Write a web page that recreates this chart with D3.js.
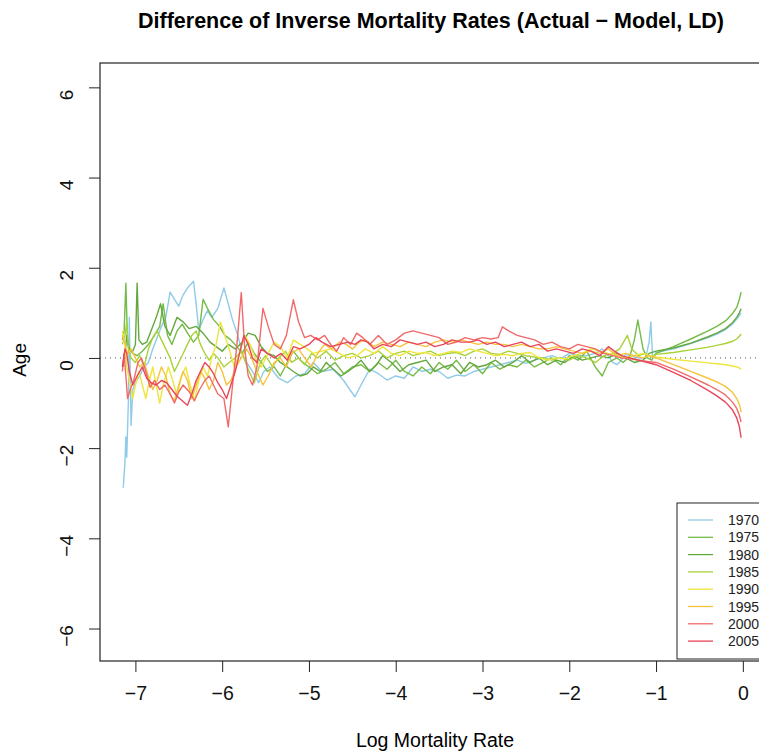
<!DOCTYPE html>
<html>
<head>
<meta charset="utf-8">
<script src="https://cdn.jsdelivr.net/npm/d3@7"></script>
<style>
  body { margin: 0; background: #fff; }
  text { font-family: "Liberation Sans", Arial, sans-serif; }
</style>
</head>
<body>
<div id="chart"></div>
<script>
// each series: [log mortality rate, age difference]
const s1970 = [[-7.14,-2.88],[-7.12,-2.3],[-7.11,-1.75],[-7.10,-2.2],[-7.08,-0.9],[-7.07,0.9],[-7.06,-0.3],[-7.05,-1.5],[-7.03,-0.7],[-7.0,-0.55],[-6.95,-0.4],[-6.9,-0.2],[-6.85,-0.1],[-6.8,0.2],[-6.75,0.45],[-6.7,0.7],[-6.65,0.9],[-6.6,1.46],[-6.55,1.3],[-6.5,1.15],[-6.45,1.4],[-6.4,1.55],[-6.33,1.7],[-6.3,1.2],[-6.27,0.62],[-6.22,0.85],[-6.17,1.05],[-6.12,0.9],[-6.05,1.1],[-5.98,1.55],[-5.93,1.2],[-5.88,0.84],[-5.82,0.5],[-5.77,0.1],[-5.72,-0.1],[-5.65,-0.3],[-5.58,-0.55],[-5.52,-0.3],[-5.45,-0.2],[-5.35,-0.45],[-5.25,-0.55],[-5.15,-0.4],[-5.05,-0.35],[-4.95,-0.1],[-4.85,-0.3],[-4.72,-0.25],[-4.6,-0.5],[-4.53,-0.7],[-4.47,-0.86],[-4.4,-0.6],[-4.3,-0.25],[-4.2,-0.35],[-4.1,-0.49],[-4.0,-0.4],[-3.9,-0.45],[-3.8,-0.2],[-3.7,-0.3],[-3.6,-0.25],[-3.5,-0.3],[-3.4,-0.45],[-3.3,-0.38],[-3.2,-0.4],[-3.1,-0.3],[-3.0,-0.25],[-2.9,-0.2],[-2.8,-0.15],[-2.7,-0.1],[-2.6,-0.05],[-2.5,-0.12],[-2.4,-0.05],[-2.3,0],[-2.2,0.05],[-2.1,-0.02],[-2.0,0.1],[-1.9,0.05],[-1.8,0.05],[-1.7,0.1],[-1.62,0.2],[-1.55,0.05],[-1.5,-0.1],[-1.45,-0.15],[-1.4,-0.05],[-1.35,0.08],[-1.3,0.05],[-1.25,0.02],[-1.2,0.0],[-1.12,0.0],[-1.08,0.35],[-1.06,0.8],[-1.04,0.0],[-1.0,0.12],[-0.8,0.2],[-0.6,0.32],[-0.4,0.45],[-0.3,0.53],[-0.2,0.63],[-0.12,0.75],[-0.07,0.86],[-0.04,0.94],[-0.02,1.0]];
const s1975 = [[-7.15,0.4],[-7.13,0.6],[-7.11,1.66],[-7.09,0.3],[-7.07,0.2],[-7.03,0.1],[-6.98,0.05],[-6.92,0.15],[-6.85,0.3],[-6.78,0.5],[-6.72,0.7],[-6.68,1.2],[-6.63,0.5],[-6.58,0.3],[-6.52,0.6],[-6.46,0.75],[-6.4,0.55],[-6.33,0.35],[-6.27,0.5],[-6.22,1.3],[-6.17,1.1],[-6.1,0.85],[-6.03,0.7],[-5.97,0.5],[-5.9,0.4],[-5.83,0.25],[-5.77,0.1],[-5.7,0.35],[-5.63,0.1],[-5.55,-0.1],[-5.48,-0.3],[-5.4,-0.2],[-5.33,-0.4],[-5.25,-0.1],[-5.18,0.15],[-5.1,-0.05],[-5.0,-0.2],[-4.9,-0.35],[-4.8,-0.25],[-4.7,-0.1],[-4.6,-0.35],[-4.5,-0.2],[-4.4,-0.15],[-4.3,-0.3],[-4.2,-0.1],[-4.1,-0.25],[-4.0,-0.05],[-3.9,-0.3],[-3.8,-0.4],[-3.7,-0.2],[-3.6,-0.35],[-3.5,-0.1],[-3.4,-0.25],[-3.3,-0.05],[-3.2,-0.3],[-3.1,-0.15],[-3.0,-0.35],[-2.9,-0.1],[-2.8,-0.25],[-2.7,-0.15],[-2.6,-0.2],[-2.5,-0.05],[-2.4,-0.2],[-2.3,-0.1],[-2.2,0.0],[-2.1,-0.15],[-2.0,0.05],[-1.9,-0.05],[-1.8,0.15],[-1.7,-0.2],[-1.62,-0.4],[-1.55,-0.1],[-1.45,0.0],[-1.38,-0.1],[-1.3,0.05],[-1.25,0.4],[-1.21,0.84],[-1.15,0.2],[-1.1,0.0],[-1.05,-0.05],[-1.0,0.1],[-0.8,0.25],[-0.6,0.42],[-0.4,0.6],[-0.3,0.7],[-0.2,0.82],[-0.12,0.98],[-0.07,1.12],[-0.04,1.3],[-0.02,1.46]];
const s1980 = [[-7.14,-0.2],[-7.12,0.1],[-7.1,0.5],[-7.07,0.2],[-7.03,0.15],[-7.0,0.3],[-6.98,1.66],[-6.96,0.4],[-6.92,0.3],[-6.87,0.35],[-6.82,0.6],[-6.76,0.9],[-6.71,1.2],[-6.66,0.7],[-6.6,0.5],[-6.52,0.9],[-6.45,0.8],[-6.38,0.65],[-6.3,0.7],[-6.22,0.55],[-6.14,0.35],[-6.07,0.25],[-6.0,0.15],[-5.93,0.3],[-5.85,0.2],[-5.77,0.35],[-5.7,0.55],[-5.62,0.5],[-5.55,0.25],[-5.48,0.1],[-5.4,0.05],[-5.33,-0.1],[-5.25,-0.2],[-5.18,-0.3],[-5.1,-0.4],[-5.02,-0.35],[-4.95,-0.2],[-4.87,-0.3],[-4.8,-0.1],[-4.72,-0.25],[-4.63,-0.4],[-4.55,-0.3],[-4.48,-0.2],[-4.4,-0.05],[-4.3,-0.3],[-4.22,-0.15],[-4.15,0.05],[-4.05,-0.1],[-3.95,-0.3],[-3.85,-0.15],[-3.75,-0.1],[-3.65,-0.05],[-3.55,-0.3],[-3.45,-0.2],[-3.35,-0.15],[-3.25,-0.35],[-3.15,-0.1],[-3.05,-0.2],[-2.95,-0.15],[-2.85,-0.05],[-2.75,-0.2],[-2.65,-0.1],[-2.55,0.05],[-2.45,-0.1],[-2.35,0.0],[-2.25,-0.15],[-2.15,-0.05],[-2.05,-0.1],[-1.95,0.05],[-1.85,-0.05],[-1.75,0.0],[-1.65,0.05],[-1.55,0.0],[-1.45,0.1],[-1.35,0.0],[-1.25,-0.1],[-1.15,-0.05],[-1.08,0.1],[-1.0,0.15],[-0.8,0.22],[-0.6,0.33],[-0.4,0.47],[-0.3,0.55],[-0.2,0.65],[-0.12,0.78],[-0.07,0.9],[-0.04,1.0],[-0.02,1.09]];
const s1985 = [[-7.15,0.3],[-7.12,0.5],[-7.1,0.8],[-7.08,0.2],[-7.05,0.0],[-7.0,-0.1],[-6.95,0.05],[-6.9,-0.2],[-6.85,0.2],[-6.8,0.45],[-6.75,0.6],[-6.7,0.4],[-6.65,0.2],[-6.6,0.0],[-6.55,-0.3],[-6.5,-0.1],[-6.45,0.1],[-6.4,0.3],[-6.35,0.5],[-6.3,0.6],[-6.25,0.3],[-6.2,0.1],[-6.15,-0.05],[-6.1,0.1],[-6.05,0.0],[-5.98,-0.2],[-5.92,-0.1],[-5.85,0.0],[-5.78,0.15],[-5.7,-0.25],[-5.63,-0.55],[-5.56,-0.1],[-5.5,0.05],[-5.42,-0.2],[-5.35,0.0],[-5.27,0.15],[-5.2,-0.1],[-5.12,0.0],[-5.05,-0.15],[-4.97,0.1],[-4.9,0.0],[-4.8,0.15],[-4.7,-0.05],[-4.6,0.05],[-4.5,0.1],[-4.4,0.0],[-4.3,0.05],[-4.2,0.15],[-4.1,0.0],[-4.0,0.1],[-3.9,0.15],[-3.8,0.05],[-3.7,0.1],[-3.6,0.15],[-3.5,0.05],[-3.4,0.1],[-3.3,0.12],[-3.2,0.05],[-3.1,0.15],[-3.0,0.2],[-2.9,0.1],[-2.8,0.08],[-2.7,0.15],[-2.6,0.1],[-2.5,0.05],[-2.4,0.02],[-2.3,0.0],[-2.2,-0.05],[-2.1,0.0],[-2.0,-0.05],[-1.9,0.05],[-1.8,0.0],[-1.7,-0.1],[-1.6,0.05],[-1.5,0.1],[-1.42,0.2],[-1.33,0.5],[-1.28,0.2],[-1.2,0.05],[-1.12,0.1],[-1.06,0.02],[-1.0,0.08],[-0.8,0.12],[-0.6,0.18],[-0.4,0.24],[-0.3,0.28],[-0.2,0.32],[-0.12,0.37],[-0.07,0.42],[-0.04,0.48],[-0.02,0.53]];
const s1990 = [[-7.15,0.6],[-7.12,0.3],[-7.1,-0.2],[-7.07,-0.5],[-7.03,-0.9],[-7.0,-0.6],[-6.96,-0.3],[-6.92,-0.6],[-6.88,-0.9],[-6.84,-0.5],[-6.8,-0.2],[-6.76,-0.6],[-6.72,-1.0],[-6.68,-0.6],[-6.62,-0.2],[-6.57,-0.5],[-6.52,-0.85],[-6.47,-0.4],[-6.42,-0.2],[-6.37,-0.6],[-6.32,-0.95],[-6.27,-0.5],[-6.22,-0.2],[-6.17,-0.4],[-6.12,0.0],[-6.07,0.3],[-6.02,0.8],[-5.97,0.5],[-5.92,0.2],[-5.86,-0.2],[-5.8,0.1],[-5.74,0.5],[-5.68,0.3],[-5.62,0.0],[-5.55,-0.2],[-5.47,0.1],[-5.4,0.35],[-5.33,0.25],[-5.25,0.0],[-5.18,0.4],[-5.1,0.3],[-5.02,0.2],[-4.95,0.1],[-4.85,0.15],[-4.75,0.2],[-4.65,0.1],[-4.55,0.0],[-4.45,0.05],[-4.35,0.2],[-4.25,0.1],[-4.15,0.25],[-4.05,0.1],[-3.95,0.05],[-3.85,0.15],[-3.75,0.1],[-3.65,0.12],[-3.55,0.05],[-3.45,0.1],[-3.35,0.15],[-3.25,0.12],[-3.15,0.2],[-3.05,0.15],[-2.95,0.1],[-2.85,0.05],[-2.75,0.08],[-2.65,0.05],[-2.55,0.1],[-2.45,0.12],[-2.35,0.0],[-2.25,-0.05],[-2.15,0.0],[-2.05,-0.02],[-1.95,0.05],[-1.85,0.1],[-1.75,0.2],[-1.65,0.15],[-1.55,0.1],[-1.45,0.05],[-1.35,0.0],[-1.25,0.05],[-1.15,0.1],[-1.08,0.05],[-1.0,0.02],[-0.8,-0.03],[-0.6,-0.07],[-0.4,-0.11],[-0.3,-0.13],[-0.2,-0.15],[-0.12,-0.18],[-0.07,-0.2],[-0.04,-0.22],[-0.02,-0.25]];
const s1995 = [[-7.15,0.5],[-7.12,0.3],[-7.09,0.1],[-7.05,0.2],[-7.0,0.0],[-6.95,-0.2],[-6.9,-0.1],[-6.85,-0.4],[-6.8,-0.7],[-6.75,-0.5],[-6.7,-0.2],[-6.65,-0.4],[-6.6,-0.8],[-6.55,-0.95],[-6.5,-0.6],[-6.45,-0.3],[-6.4,-0.5],[-6.35,-0.9],[-6.3,-0.6],[-6.25,-0.3],[-6.2,-0.45],[-6.15,-0.7],[-6.1,-0.5],[-6.05,-0.1],[-6.0,-0.3],[-5.95,-0.6],[-5.9,-0.5],[-5.84,-0.2],[-5.78,0.0],[-5.72,0.2],[-5.66,0.0],[-5.6,-0.3],[-5.53,-0.6],[-5.47,-0.4],[-5.4,-0.1],[-5.33,0.0],[-5.26,-0.2],[-5.2,0.1],[-5.12,0.2],[-5.05,0.0],[-4.97,-0.2],[-4.9,0.1],[-4.82,0.3],[-4.74,0.2],[-4.65,0.35],[-4.57,0.3],[-4.5,0.2],[-4.42,0.35],[-4.35,0.4],[-4.25,0.25],[-4.15,0.35],[-4.05,0.3],[-3.95,0.25],[-3.85,0.35],[-3.75,0.3],[-3.65,0.25],[-3.55,0.35],[-3.45,0.4],[-3.35,0.35],[-3.25,0.4],[-3.15,0.35],[-3.05,0.3],[-2.95,0.35],[-2.85,0.3],[-2.75,0.3],[-2.65,0.25],[-2.55,0.3],[-2.45,0.25],[-2.35,0.2],[-2.25,0.2],[-2.15,0.25],[-2.05,0.2],[-1.95,0.15],[-1.85,0.1],[-1.75,0.15],[-1.65,0.1],[-1.55,0.2],[-1.45,0.05],[-1.35,0.1],[-1.25,0.05],[-1.15,0.0],[-1.08,0.05],[-1.0,0.0],[-0.8,-0.15],[-0.6,-0.3],[-0.4,-0.45],[-0.3,-0.53],[-0.2,-0.63],[-0.12,-0.76],[-0.07,-0.9],[-0.04,-1.03],[-0.02,-1.2]];
const s2000 = [[-7.15,-0.3],[-7.13,0.1],[-7.11,-0.4],[-7.09,-0.9],[-7.06,-0.7],[-7.02,-0.5],[-6.97,-0.1],[-6.93,0.0],[-6.88,-0.3],[-6.83,-0.65],[-6.78,-0.5],[-6.72,-0.7],[-6.66,-0.6],[-6.6,-0.8],[-6.55,-1.0],[-6.5,-0.75],[-6.45,-0.6],[-6.38,-0.75],[-6.32,-0.95],[-6.26,-0.7],[-6.2,-0.5],[-6.15,-0.4],[-6.1,-0.6],[-6.05,-0.8],[-5.98,-0.9],[-5.93,-1.53],[-5.88,-0.6],[-5.83,0.3],[-5.78,1.45],[-5.74,0.2],[-5.7,-0.4],[-5.65,-0.6],[-5.6,-0.2],[-5.53,1.1],[-5.47,0.7],[-5.4,0.3],[-5.33,0.2],[-5.26,0.5],[-5.18,1.29],[-5.12,0.8],[-5.05,0.45],[-4.98,0.5],[-4.9,0.4],[-4.82,0.5],[-4.75,0.3],[-4.68,0.15],[-4.6,0.45],[-4.52,0.3],[-4.45,0.55],[-4.38,0.45],[-4.3,0.3],[-4.2,0.5],[-4.1,0.3],[-4.0,0.4],[-3.9,0.55],[-3.8,0.6],[-3.7,0.55],[-3.6,0.5],[-3.5,0.45],[-3.4,0.3],[-3.3,0.35],[-3.2,0.45],[-3.1,0.4],[-3.0,0.45],[-2.9,0.42],[-2.82,0.45],[-2.77,0.69],[-2.7,0.6],[-2.6,0.5],[-2.5,0.45],[-2.4,0.4],[-2.3,0.3],[-2.2,0.35],[-2.1,0.25],[-2.0,0.2],[-1.9,0.3],[-1.8,0.25],[-1.7,0.2],[-1.6,0.1],[-1.5,0.05],[-1.4,0.0],[-1.3,-0.02],[-1.2,-0.05],[-1.1,-0.08],[-1.0,-0.1],[-0.8,-0.25],[-0.6,-0.42],[-0.4,-0.6],[-0.3,-0.7],[-0.2,-0.82],[-0.12,-0.98],[-0.07,-1.12],[-0.04,-1.27],[-0.02,-1.42]];
const s2005 = [[-7.15,-0.2],[-7.12,0.2],[-7.1,0.1],[-7.07,-0.3],[-7.03,-0.6],[-6.98,-0.4],[-6.92,-0.2],[-6.87,-0.45],[-6.82,-0.55],[-6.76,-0.6],[-6.7,-0.5],[-6.64,-0.55],[-6.58,-0.7],[-6.52,-0.85],[-6.46,-0.95],[-6.4,-1.05],[-6.35,-0.8],[-6.3,-0.5],[-6.25,-0.3],[-6.2,-0.1],[-6.15,-0.2],[-6.1,-0.35],[-6.05,-0.55],[-6.0,-0.7],[-5.95,-0.9],[-5.9,-0.6],[-5.85,-0.3],[-5.8,0.1],[-5.75,0.5],[-5.7,0.3],[-5.65,0.0],[-5.6,-0.1],[-5.55,0.2],[-5.48,0.1],[-5.4,0.0],[-5.32,0.1],[-5.25,-0.05],[-5.18,0.25],[-5.1,0.2],[-5.0,0.3],[-4.92,0.45],[-4.85,0.35],[-4.75,0.25],[-4.65,0.3],[-4.55,0.35],[-4.47,0.3],[-4.4,0.4],[-4.32,0.35],[-4.25,0.2],[-4.15,0.3],[-4.05,0.25],[-3.95,0.4],[-3.85,0.35],[-3.75,0.3],[-3.65,0.35],[-3.55,0.25],[-3.45,0.3],[-3.35,0.4],[-3.25,0.35],[-3.15,0.35],[-3.05,0.4],[-2.95,0.3],[-2.85,0.35],[-2.75,0.25],[-2.65,0.3],[-2.55,0.35],[-2.45,0.25],[-2.35,0.3],[-2.25,0.15],[-2.15,0.2],[-2.05,0.15],[-1.95,0.1],[-1.85,0.2],[-1.75,0.15],[-1.65,0.05],[-1.55,0.25],[-1.48,0.15],[-1.4,0.05],[-1.3,0.0],[-1.2,-0.05],[-1.1,-0.1],[-1.0,-0.15],[-0.8,-0.32],[-0.6,-0.5],[-0.4,-0.72],[-0.3,-0.84],[-0.2,-0.98],[-0.12,-1.15],[-0.07,-1.33],[-0.04,-1.52],[-0.02,-1.77]];

const years = ["1970", "1975", "1980", "1985", "1990", "1995", "2000", "2005"];
const seriesData = [s1970, s1975, s1980, s1985, s1990, s1995, s2000, s2005];
const colors = ["#8fcbe8", "#74bb48", "#62a83c", "#a9d23a", "#eee63c", "#f7c23c", "#f06a6a", "#e8465a"];
const xTicks = [-7, -6, -5, -4, -3, -2, -1, 0];
const yTicks = [-6, -4, -2, 0, 2, 4, 6];

function main() {
    const width = 759, height = 755;
    const plotLeft = 100, plotTop = 63, plotBottom = 661, plotRight = 768;

    const svg = d3.select("#chart").append("svg")
        .attr("width", width)
        .attr("height", height)

    const x = d3.scaleLinear().domain([-7.408, 0.29]).range([plotLeft, plotRight])
    const y = d3.scaleLinear().domain([-6.72, 6.54]).range([plotBottom, plotTop])

    // title
    svg.append("text")
        .attr("x", 431).attr("y", 28)
        .attr("text-anchor", "middle")
        .style("font-size", "21.5px").style("font-weight", "bold")
        .text("Difference of Inverse Mortality Rates (Actual \u2212 Model, LD)")

    // zero reference line
    svg.append("line")
        .attr("x1", plotLeft).attr("x2", plotRight)
        .attr("y1", y(0)).attr("y2", y(0))
        .style("stroke", "#555").style("stroke-width", 1)
        .style("stroke-dasharray", "1,4")

    const line = d3.line().x(d => x(d[0])).y(d => y(d[1]))

    svg.append("g").selectAll("path")
        .data(seriesData)
        .join("path")
        .attr("d", d => line(d))
        .style("fill", "none")
        .style("stroke", (d, i) => colors[i])
        .style("stroke-width", 1.4)
        .style("stroke-linejoin", "round")

    // box
    svg.append("rect")
        .attr("x", plotLeft).attr("y", plotTop)
        .attr("width", plotRight - plotLeft).attr("height", plotBottom - plotTop)
        .style("fill", "none").style("stroke", "#222").style("stroke-width", 1.2)

    // x axis
    const xAxis = svg.append("g")
        .attr("transform", `translate(0,${plotBottom})`)
        .call(d3.axisBottom(x).tickValues(xTicks).tickSize(11).tickPadding(14)
            .tickFormat(d => d < 0 ? "\u2212" + Math.abs(d) : d))
    xAxis.select(".domain").remove()
    xAxis.selectAll("line").style("stroke", "#222")
    xAxis.selectAll("text").style("font-size", "19.5px").style("fill", "#111")
        .style("font-family", "Liberation Sans, Arial, sans-serif")

    // y axis
    const yAxis = svg.append("g")
        .attr("transform", `translate(${plotLeft},0)`)
        .call(d3.axisLeft(y).tickValues(yTicks).tickSize(11).tickPadding(0)
            .tickFormat(d => d < 0 ? "\u2212" + Math.abs(d) : d))
    yAxis.select(".domain").remove()
    yAxis.selectAll("line").style("stroke", "#222")
    yAxis.selectAll("text")
        .attr("x", 0).attr("dy", 0)
        .attr("text-anchor", "middle")
        .attr("transform", "translate(-27,7) rotate(-90)")
        .style("font-size", "19px").style("fill", "#111")
        .style("font-family", "Liberation Sans, Arial, sans-serif")

    // axis titles
    svg.append("text")
        .attr("x", 435).attr("y", 747)
        .attr("text-anchor", "middle")
        .style("font-size", "19.5px")
        .text("Log Mortality Rate")
    svg.append("text")
        .attr("transform", `translate(26,${y(0) + 2}) rotate(-90)`)
        .attr("text-anchor", "middle")
        .style("font-size", "19px")
        .text("Age")

    // legend, bottom right
    const legend = svg.append("g")
    legend.append("rect")
        .attr("x", 677).attr("y", 503)
        .attr("width", 120).attr("height", 156)
        .style("fill", "#fff").style("stroke", "#222").style("stroke-width", 1)
    const items = legend.selectAll("g.item")
        .data(years)
        .join("g")
        .attr("class", "item")
        .attr("transform", (d, i) => `translate(0,${520 + i * 17.3})`)
    items.append("line")
        .attr("x1", 688).attr("x2", 713)
        .style("stroke", (d, i) => colors[i]).style("stroke-width", 1.3)
    items.append("text")
        .attr("x", 728).attr("y", 5)
        .style("font-size", "14px").style("fill", "#222")
        .text(d => d)
}
main();
</script>
</body>
</html>
